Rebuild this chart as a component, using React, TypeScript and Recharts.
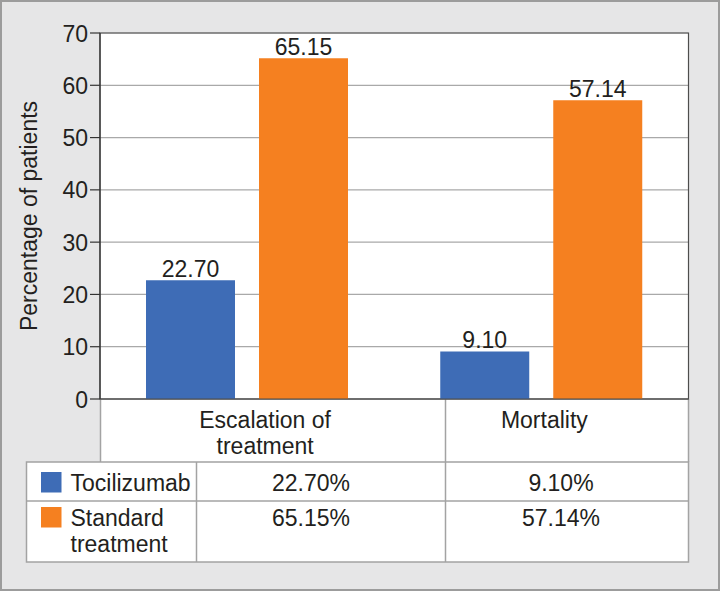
import React from 'react';
import { BarChart, Bar, XAxis, YAxis, CartesianGrid, LabelList, ReferenceArea } from 'recharts';

const categories = ['Escalation of treatment', 'Mortality'];
const tocilizumab = [22.7, 9.1];
const standardTreatment = [65.15, 57.14];
const seriesNames = ['Tocilizumab', 'Standard treatment'];
const yTicks = [0, 10, 20, 30, 40, 50, 60, 70];
const yTitle = 'Percentage of patients';

const BLUE = '#3e6cb6';
const ORANGE = '#f58020';
const TEXT = '#231f20';
const FONT = '"Liberation Sans", Arial, Helvetica, sans-serif';
const TABLE_LINE = '#a3a3a3';

const data = categories.map((c, i) => ({ category: c, toc: tocilizumab[i], std: standardTreatment[i] }));

function wrap(text: string, maxChars: number): string[] {
  const words = text.split(' ');
  const lines: string[] = [];
  let cur = '';
  for (const w of words) {
    const next = cur ? cur + ' ' + w : w;
    if (next.length > maxChars && cur) {
      lines.push(cur);
      cur = w;
    } else cur = next;
  }
  if (cur) lines.push(cur);
  return lines;
}

const CategoryTick = (props: any) => {
  const { x, y, payload, index } = props;
  const lines = wrap(String(payload.value), 14);
  const dx = (payload.index ?? index) === 0 ? 18 : 3;
  return (
    <text x={x + dx} y={y} textAnchor="middle" fill={TEXT} fontSize={23} fontFamily={FONT}>
      {lines.map((l, i) => (
        <tspan key={i} x={x + dx} dy={i === 0 ? 28.5 : 26}>
          {l}
        </tspan>
      ))}
    </text>
  );
};

const ValueTick = (props: any) => {
  const { x, y, payload } = props;
  return (
    <text x={x} y={y} dy={8.5} textAnchor="end" fill={TEXT} fontSize={23} fontFamily={FONT}>
      {payload.value}
    </text>
  );
};

const YTitle = (props: any) => {
  const vb = props.viewBox || { x: 0, y: 33, width: 100, height: 366 };
  const cx = vb.x + 37;
  const cy = vb.y + vb.height / 2;
  return (
    <text
      x={cx}
      y={cy}
      transform={`rotate(-90, ${cx}, ${cy})`}
      textAnchor="middle"
      fill={TEXT}
      fontSize={23}
      fontFamily={FONT}
    >
      {yTitle}
    </text>
  );
};

const seriesColors = [BLUE, ORANGE];
const seriesValues = [tocilizumab, standardTreatment];
const rowTops = [462, 501];
const rowBaselines = [490.5, 526];
const valueCenters = [311, 561];

const Table = () => (
  <svg width={720} height={591} style={{ position: 'absolute', left: 0, top: 0 }}>
    <rect x={100} y={399} width={588.5} height={63} fill="#fff" />
    <line x1={100.5} y1={399} x2={100.5} y2={462} stroke={TABLE_LINE} strokeWidth={1.5} />
    <line x1={445.5} y1={399} x2={445.5} y2={462} stroke={TABLE_LINE} strokeWidth={1.5} />
    <line x1={688.5} y1={399} x2={688.5} y2={462} stroke={TABLE_LINE} strokeWidth={1.5} />
    <rect x={26.5} y={462} width={662} height={100} fill="#fff" stroke={TABLE_LINE} strokeWidth={1.5} />
    <line x1={26.5} y1={501} x2={688.5} y2={501} stroke={TABLE_LINE} strokeWidth={1.5} />
    <line x1={196.5} y1={462} x2={196.5} y2={562} stroke={TABLE_LINE} strokeWidth={1.5} />
    <line x1={445.5} y1={462} x2={445.5} y2={562} stroke={TABLE_LINE} strokeWidth={1.5} />
    {seriesNames.map((name, r) => {
      const lines = wrap(name, 12);
      return (
        <g key={name}>
          <rect x={41} y={rowTops[r] + (r === 0 ? 10 : 6)} width={20.5} height={20.5} fill={seriesColors[r]} />
          <text x={70.5} y={rowBaselines[r]} fill={TEXT} fontSize={23} fontFamily={FONT}>
            {lines.map((l, i) => (
              <tspan key={i} x={70.5} dy={i === 0 ? 0 : 26}>
                {l}
              </tspan>
            ))}
          </text>
          {seriesValues[r].map((v, c) => (
            <text
              key={c}
              x={valueCenters[c]}
              y={rowBaselines[r]}
              textAnchor="middle"
              fill={TEXT}
              fontSize={23}
              fontFamily={FONT}
            >
              {v.toFixed(2) + '%'}
            </text>
          ))}
        </g>
      );
    })}
  </svg>
);

export default function App() {
  return (
    <div
      style={{
        position: 'absolute',
        left: 0,
        top: 0,
        width: 720,
        height: 591,
        background: '#e6e6e7',
        boxShadow: 'inset 0 0 0 2px #9c9c9c',
        fontFamily: FONT,
        overflow: 'hidden',
      }}
    >
      <Table />
      <div style={{ position: 'absolute', left: 0, top: 0 }}>
        <BarChart
          width={720}
          height={591}
          data={data}
          margin={{ top: 33, right: 31.5, left: 0, bottom: 129 }}
          barSize={89}
          barGap={24}
          style={{ fontFamily: FONT }}
        >
          <CartesianGrid vertical={false} stroke="#a9a9a9" strokeWidth={1.2} fill="#fff" />
          <XAxis
            dataKey="category"
            axisLine={{ stroke: '#4d4d4d', strokeWidth: 1.2 }}
            tickLine={false}
            tickSize={0}
            tickMargin={0}
            height={63}
            interval={0}
            tick={<CategoryTick />}
          />
          <YAxis
            domain={[0, 70]}
            ticks={yTicks}
            interval={0}
            width={100}
            tickSize={10}
            tickMargin={2}
            axisLine={{ stroke: '#333', strokeWidth: 1.2 }}
            tickLine={{ stroke: '#333', strokeWidth: 1.2 }}
            tick={<ValueTick />}
            label={{ value: yTitle, content: (p: any) => <YTitle {...p} /> }}
          />
          <ReferenceArea y1={0} y2={70} fill="none" stroke="#4d4d4d" strokeWidth={1.2} ifOverflow="visible" />
          <Bar dataKey="toc" name={seriesNames[0]} fill={BLUE} isAnimationActive={false}>
            <LabelList
              dataKey="toc"
              position="top"
              offset={3}
              fill={TEXT}
              fontSize={23}
              fontFamily={FONT}
              formatter={(v: any) => Number(v).toFixed(2)}
            />
          </Bar>
          <Bar dataKey="std" name={seriesNames[1]} fill={ORANGE} isAnimationActive={false}>
            <LabelList
              dataKey="std"
              position="top"
              offset={3}
              fill={TEXT}
              fontSize={23}
              fontFamily={FONT}
              formatter={(v: any) => Number(v).toFixed(2)}
            />
          </Bar>
        </BarChart>
      </div>
    </div>
  );
}
